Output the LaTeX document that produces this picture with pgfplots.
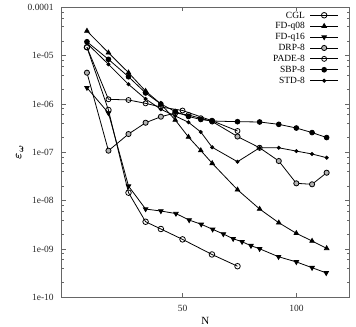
\documentclass[border=0pt]{standalone}
\usepackage{pgfplots}
\pgfplotsset{compat=1.18}
\usepackage{bm}
\usepackage{fontspec}
\setmainfont{Liberation Serif}
\begin{document}
\begin{tikzpicture}
\begin{axis}[name=ax, scale only axis, width=287.3bp, height=290bp,
  xmin=-3, xmax=123, ymode=log, ymin=1e-10, ymax=1e-4,
  xtick={50,100}, xticklabels={50,100},
  ytick={1e-10,1e-9,1e-8,1e-7,1e-6,1e-5,1e-4},
  yticklabels={1e-10,1e-09,1e-08,1e-07,1e-06,1e-05,0.0001},
  minor ytick={2e-10,4e-10,6e-10,8e-10,2e-9,4e-9,6e-9,8e-9,2e-8,4e-8,6e-8,8e-8,2e-7,4e-7,6e-7,8e-7,2e-6,4e-6,6e-6,8e-6,2e-5,4e-5,6e-5,8e-5},
  tick align=inside, tick pos=both,
  major tick length=4bp, minor tick length=2bp,
  axis line style={gray!80!black, line width=0.8pt},
  every tick/.style={gray!80!black, line width=0.6pt},
  tick label style={font=\fontsize{9.5}{10}\selectfont, text=black!85},
  yticklabel style={xshift=-4.5bp},
  xticklabel style={yshift=-4bp},
  xlabel={N}, ylabel={$\bm{\varepsilon_{\omega}}$},
  xlabel style={at={(axis description cs:0.5,0)}, anchor=center, yshift=-24bp, font=\fontsize{11}{12}\selectfont},
  ylabel style={at={(axis description cs:0,0.5)}, anchor=center, yshift=42bp, font=\fontsize{13}{14}\selectfont},
  legend cell align=right, legend plot pos=right,
  legend style={draw=none, fill=none, inner sep=0pt, at={(0.965,0.992)}, anchor=north east,
    font=\fontsize{9.5}{10}\selectfont, row sep=0bp, column sep=4bp,
    nodes={text height=7.5bp, text depth=2bp, inner sep=0.7bp}},
  legend image code/.code={\draw[mark repeat=2,mark phase=2] plot coordinates {(0cm,0cm) (0.5cm,0cm) (1cm,0cm)};},
  every axis plot/.append style={black, line width=0.8pt},
]
% CGL
\addplot[mark=o, mark size=2.8pt, mark options={solid, fill=none}] coordinates {
 (8.07,1.49e-5) (17.5,7.5e-7) (26.3,1.46e-8) (33.8,3.66e-9) (40.5,2.59e-9) (50,1.58e-9) (62.9,7.7e-10) (74.1,4.4e-10)};
\addlegendentry{CGL}
% FD-q08
\addplot[mark=triangle*, mark size=2.6pt] coordinates {
 (8.07,3.24e-5) (17.5,1.15e-5) (26.3,4.44e-6) (33.8,1.85e-6) (40.5,9.98e-7) (46.8,4.66e-7) (52.6,2.07e-7) (58.0,1.09e-7) (63.0,5.92e-8) (74.1,1.68e-8) (83.8,6.71e-9) (92.2,3.49e-9) (99.9,2.11e-9) (106.8,1.46e-9) (113.2,1.03e-9)};
\addlegendentry{FD-q08}
% FD-q16
\addplot[mark=triangle*, mark size=2.6pt, mark options={rotate=180}] coordinates {
 (8.07,2.17e-6) (17.5,6.5e-7) (26.3,2.0e-8) (33.8,6.7e-9) (40.5,6.1e-9) (47.1,5.4e-9) (52.9,3.97e-9) (58.2,3.24e-9) (63.2,2.55e-9) (67.9,2.04e-9) (72.2,1.63e-9) (76.1,1.41e-9) (80,1.17e-9) (83.8,1.01e-9) (92.1,6.9e-10) (99.9,5.4e-10) (106.8,4.1e-10) (113,3.2e-10)};
\addlegendentry{FD-q16}
% DRP-8
\addplot[mark=*, mark size=2.6pt, mark options={fill=gray!60}] coordinates {
 (8.07,4.44e-6) (17.5,1.08e-7) (26.3,2.39e-7) (33.8,4.09e-7) (40.5,5.45e-7) (46.8,6.50e-7) (52.6,5.92e-7) (58.0,5.05e-7) (63.0,4.34e-7) (74.1,2.12e-7) (83.8,1.24e-7) (92.2,6.61e-8) (99.9,2.28e-8) (106.8,2.18e-8) (113.2,3.78e-8)};
\addlegendentry{DRP-8}
% PADE-8
\addplot[mark=o, mark size=2.5pt] coordinates {
 (8.07,1.49e-5) (17.5,1.25e-6) (26.3,1.21e-6) (33.8,1.03e-6) (40.5,8.65e-7) (50,7.33e-7) (62.9,4.51e-7) (74.1,2.76e-7)};
\addlegendentry{PADE-8}
% SBP-8
\addplot[mark=*, mark size=2.4pt] coordinates {
 (8.07,1.94e-5) (17.5,8.39e-6) (26.3,3.66e-6) (33.8,1.69e-6) (40.5,9.98e-7) (46.8,6.98e-7) (52.6,5.51e-7) (58.0,4.78e-7) (63.0,4.44e-7) (74.1,4.30e-7) (83.8,4.24e-7) (92.2,3.79e-7) (99.9,3.18e-7) (106.8,2.56e-7) (113.2,2.02e-7)};
\addlegendentry{SBP-8}
% STD-8
\addplot[mark=*, mark size=1.6pt] coordinates {
 (8.07,1.80e-5) (17.5,6.62e-6) (26.3,2.55e-6) (33.8,1.27e-6) (40.5,7.76e-7) (46.8,5.64e-7) (52.6,4.18e-7) (58.0,2.63e-7) (63.0,1.27e-7) (74.1,6.38e-8) (83.8,1.24e-7) (92.2,1.24e-7) (99.9,1.06e-7) (106.8,9.23e-8) (113.2,7.73e-8)};
\addlegendentry{STD-8}
\end{axis}
\pgfresetboundingbox
\useasboundingbox ([xshift=-61.7bp,yshift=-29.7bp]ax.south west) rectangle ([xshift=7bp,yshift=7.3bp]ax.north east);
\end{tikzpicture}
\end{document}
